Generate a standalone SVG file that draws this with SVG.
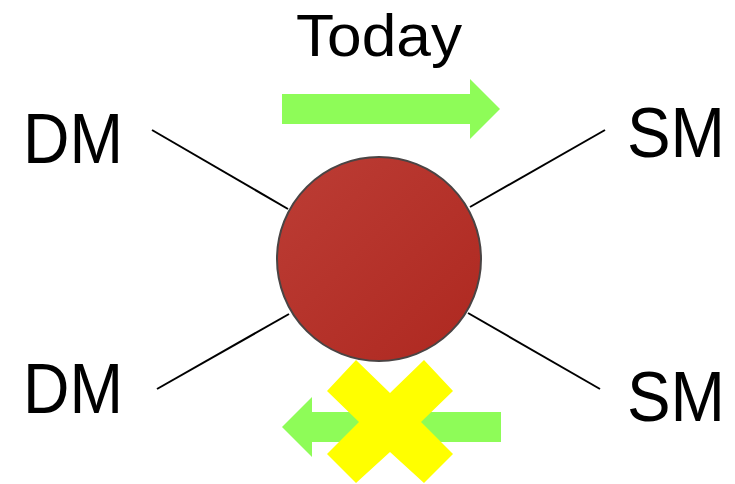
<svg xmlns="http://www.w3.org/2000/svg" width="735" height="484" viewBox="0 0 735 484">
  <defs>
    <linearGradient id="ballGrad" x1="0" y1="0" x2="1" y2="1">
      <stop offset="0" stop-color="#bc3d35"/>
      <stop offset="1" stop-color="#ae2820"/>
    </linearGradient>
    <style>
      .lbl { font-family: "Liberation Sans", Arial, sans-serif; font-size: 70px; fill: #000; }
      .ttl { font-family: "Liberation Sans", Arial, sans-serif; font-size: 60px; fill: #000; }
      .conn { stroke: #000; stroke-width: 2; fill: none; }
      .arrow { fill: #8efc58; }
      .cross { fill: #ffff00; }
    </style>
  </defs>
  <rect width="735" height="484" fill="#fff"/>

  <g id="connectors">
    <line class="conn" x1="152" y1="130" x2="288" y2="209"/>
    <line class="conn" x1="605" y1="130" x2="470" y2="207"/>
    <line class="conn" x1="157" y1="389" x2="289" y2="314"/>
    <line class="conn" x1="468" y1="313" x2="600" y2="389"/>
  </g>

  <g id="center-node">
    <circle cx="379" cy="259" r="102" fill="url(#ballGrad)" stroke="#4a4444" stroke-width="2"/>
  </g>

  <g id="label-today">
    <text class="ttl" x="296" y="56" textLength="166" lengthAdjust="spacingAndGlyphs">Today</text>
  </g>
  <g id="node-dm-top">
    <text class="lbl" x="23" y="163" textLength="100" lengthAdjust="spacingAndGlyphs">DM</text>
  </g>
  <g id="node-dm-bottom">
    <text class="lbl" x="23" y="413" textLength="100" lengthAdjust="spacingAndGlyphs">DM</text>
  </g>
  <g id="node-sm-top">
    <text class="lbl" x="627" y="157" textLength="98" lengthAdjust="spacingAndGlyphs">SM</text>
  </g>
  <g id="node-sm-bottom">
    <text class="lbl" x="627" y="421" textLength="98" lengthAdjust="spacingAndGlyphs">SM</text>
  </g>

  <g id="arrow-right">
    <polygon class="arrow" points="282,94 470,94 470,79 500,109 470,139 470,124 282,124"/>
  </g>
  <g id="arrow-left">
    <polygon class="arrow" points="282,427 312,397 312,412 501,412 501,442 312,442 312,457"/>
  </g>
  <g id="cross">
    <polygon class="cross" points="356,360 390,393 424,360 453,391 421,422 453,454 424,483 390,452 356,483 327,454 359,422 327,391"/>
  </g>
</svg>
